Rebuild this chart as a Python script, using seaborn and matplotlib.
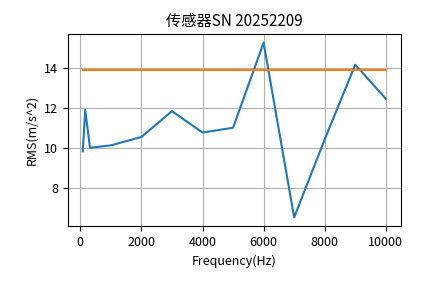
import matplotlib
matplotlib.use("Agg")
import matplotlib.pyplot as plt
import seaborn as sns
import pandas as pd

plt.rcParams['font.family'] = ['Noto Sans CJK SC', 'DejaVu Sans']
plt.rcParams['axes.unicode_minus'] = False

freqs = [80, 160, 315, 1000, 2000, 3000, 4000, 5000, 6000, 7000, 8000, 9000, 10000]
rms = [9.85, 11.92, 10.03, 10.15, 10.57, 11.86, 10.79, 11.03, 15.28, 6.55, 10.45, 14.18, 12.48]
ref_level = 13.93

title = "传感器SN 20252209"
xlabel = "Frequency(Hz)"
ylabel = "RMS(m/s^2)"

df = pd.DataFrame({"freq": freqs, "rms": rms})
ref = pd.DataFrame({"freq": [freqs[0], freqs[-1]], "rms": [ref_level, ref_level]})

fig = plt.figure(figsize=(4.45, 2.83), dpi=100)
ax = fig.add_axes([0.152, 0.201, 0.749, 0.679])
sns.lineplot(data=df, x="freq", y="rms", ax=ax, color="#1f77b4", linewidth=1.5)
sns.lineplot(data=ref, x="freq", y="rms", ax=ax, color="#ff7f0e", linewidth=1.5)
ax.set_title(title, fontsize=11)
ax.set_xlabel(xlabel, fontsize=9)
ax.set_ylabel(ylabel, fontsize=9)
ax.tick_params(labelsize=9)
ax.set_xticks([0, 2000, 4000, 6000, 8000, 10000])
ax.set_yticks([8, 10, 12, 14])
ax.grid(True)
fig.savefig("out.png", dpi=100)
